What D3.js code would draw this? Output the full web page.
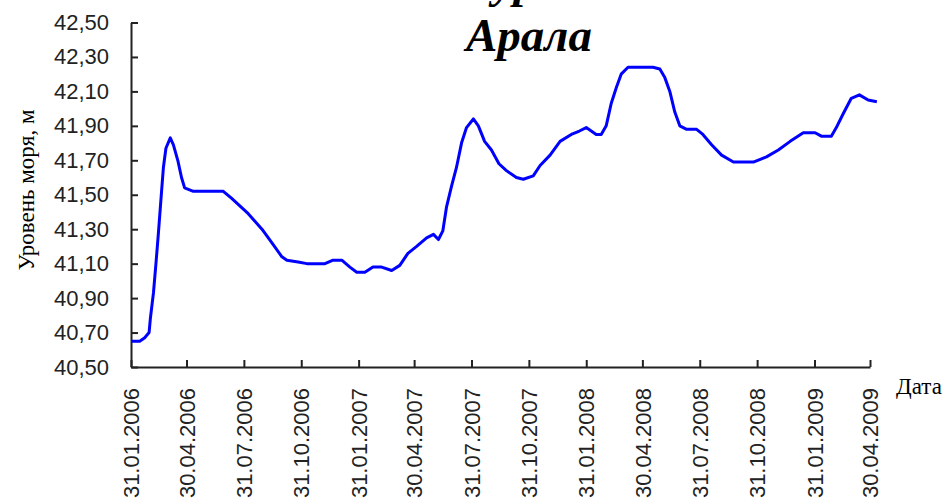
<!DOCTYPE html>
<html>
<head>
<meta charset="utf-8">
<script src="https://cdn.jsdelivr.net/npm/d3@7"></script>
<style>
  body { margin: 0; background: #fff; }
</style>
</head>
<body>
<div id="chart"></div>
<script>
var dates = [
  "31.01.2006", "14.02.2006", "22.02.2006", "01.03.2006", "03.03.2006", "08.03.2006",
  "12.03.2006", "16.03.2006", "21.03.2006", "24.03.2006", "28.03.2006", "04.04.2006",
  "09.04.2006", "16.04.2006", "22.04.2006", "27.04.2006", "11.05.2006", "22.06.2006",
  "28.06.2006", "11.07.2006", "07.08.2006", "29.08.2006", "14.09.2006", "30.09.2006",
  "08.10.2006", "26.10.2006", "09.11.2006", "08.12.2006", "21.12.2006", "04.01.2007",
  "17.01.2007", "28.01.2007", "10.02.2007", "23.02.2007", "09.03.2007", "25.03.2007",
  "07.04.2007", "20.04.2007", "04.05.2007", "20.05.2007", "31.05.2007", "08.06.2007",
  "15.06.2007", "21.06.2007", "29.06.2007", "07.07.2007", "15.07.2007", "23.07.2007",
  "03.08.2007", "11.08.2007", "21.08.2007", "01.09.2007", "13.09.2007", "25.09.2007",
  "11.10.2007", "22.10.2007", "07.11.2007", "18.11.2007", "04.12.2007", "20.12.2007",
  "07.01.2008", "20.01.2008", "31.01.2008", "08.02.2008", "16.02.2008", "24.02.2008",
  "03.03.2008", "11.03.2008", "19.03.2008", "27.03.2008", "07.04.2008", "17.05.2008",
  "28.05.2008", "05.06.2008", "13.06.2008", "21.06.2008", "29.06.2008", "10.07.2008",
  "26.07.2008", "05.08.2008", "19.08.2008", "04.09.2008", "23.09.2008", "25.10.2008",
  "15.11.2008", "04.12.2008", "23.12.2008", "13.01.2009", "01.02.2009", "11.02.2009",
  "27.02.2009", "07.03.2009", "18.03.2009", "31.03.2009", "13.04.2009", "27.04.2009",
  "11.05.2009"
];

var levels = [
  40.65, 40.65, 40.67, 40.70, 40.78, 40.93,
  41.10, 41.28, 41.52, 41.66, 41.77, 41.83,
  41.79, 41.70, 41.60, 41.54, 41.52, 41.52,
  41.52, 41.48, 41.39, 41.30, 41.22, 41.14,
  41.12, 41.11, 41.10, 41.10, 41.12, 41.12,
  41.08, 41.05, 41.05, 41.08, 41.08, 41.06,
  41.09, 41.16, 41.20, 41.25, 41.27, 41.24,
  41.29, 41.43, 41.55, 41.66, 41.80, 41.89,
  41.94, 41.90, 41.81, 41.76, 41.68, 41.64,
  41.60, 41.59, 41.61, 41.67, 41.73, 41.81,
  41.85, 41.87, 41.89, 41.87, 41.85, 41.85,
  41.90, 42.03, 42.12, 42.20, 42.24, 42.24,
  42.23, 42.18, 42.10, 41.98, 41.90, 41.88,
  41.88, 41.85, 41.79, 41.73, 41.69, 41.69,
  41.72, 41.76, 41.81, 41.86, 41.86, 41.84,
  41.84, 41.89, 41.97, 42.06, 42.08, 42.05,
  42.04
];

var tickDates = [
  "31.01.2006", "30.04.2006", "31.07.2006", "31.10.2006", "31.01.2007", "30.04.2007",
  "31.07.2007", "31.10.2007", "31.01.2008", "30.04.2008", "31.07.2008", "31.10.2008",
  "31.01.2009", "30.04.2009"
];

var yTicks = [40.5, 40.7, 40.9, 41.1, 41.3, 41.5, 41.7, 41.9, 42.1, 42.3, 42.5];

var titleLines = ["Колебания уровня Малого", "Арала"];
var yTitle = "Уровень моря, м";
var xTitle = "Дата";

var cWidth = 952, cHeight = 504;
var plot = {left: 131, right: 870, top: 22.5, bottom: 367};

var parseDate = d3.timeParse("%d.%m.%Y");
var formatDate = d3.timeFormat("%d.%m.%Y");

var data = dates.map(function(d, i) {
  return {date: parseDate(d), value: levels[i]};
});

var xScale = d3.scaleTime()
  .domain([parseDate(tickDates[0]), parseDate(tickDates[tickDates.length - 1])])
  .range([plot.left, plot.right]);

var yScale = d3.scaleLinear()
  .domain([40.5, 42.5])
  .range([plot.bottom, plot.top]);

var svgContainer = d3.select("#chart").append("svg")
  .attr("width", cWidth)
  .attr("height", cHeight);

// title, first line is cut off by the top edge like in the original
var title = svgContainer.append("text")
  .attr("x", 529)
  .attr("text-anchor", "middle")
  .style("font-family", "'Liberation Serif', 'Times New Roman', serif")
  .style("font-weight", "bold")
  .style("font-style", "italic")
  .style("font-size", "47px");

title.append("tspan").attr("x", 529).attr("y", -3).text(titleLines[0]);
title.append("tspan").attr("x", 529).attr("y", 51).text(titleLines[1]);

var xAxis = d3.axisBottom(xScale)
  .tickValues(tickDates.map(parseDate))
  .tickFormat(formatDate)
  .tickSizeInner(-7)
  .tickSizeOuter(0);

var yAxis = d3.axisLeft(yScale)
  .tickValues(yTicks)
  .tickFormat(function(d) { return d3.format(".2f")(d).replace(".", ","); })
  .tickSizeInner(-7)
  .tickSizeOuter(0);

var xAxisGroup = svgContainer.append("g")
  .attr("transform", "translate(0," + plot.bottom + ")")
  .call(xAxis);

var yAxisGroup = svgContainer.append("g")
  .attr("transform", "translate(" + plot.left + ",0)")
  .call(yAxis);

svgContainer.selectAll(".domain, .tick line")
  .attr("stroke", "#222")
  .attr("stroke-width", 2);

yAxisGroup.selectAll("text")
  .attr("x", -22)
  .style("font-family", "Arial, 'Liberation Sans', sans-serif")
  .style("font-size", "22px")
  .attr("fill", "#222");

xAxisGroup.selectAll("text")
  .attr("transform", "rotate(-90)")
  .attr("text-anchor", "end")
  .attr("x", -21)
  .attr("y", 0)
  .attr("dy", "0.35em")
  .style("font-family", "Arial, 'Liberation Sans', sans-serif")
  .style("font-size", "22px")
  .attr("fill", "#222");

svgContainer.append("text")
  .attr("transform", "translate(34,190) rotate(-90)")
  .attr("text-anchor", "middle")
  .style("font-family", "'Liberation Serif', 'Times New Roman', serif")
  .style("font-size", "23px")
  .text(yTitle);

svgContainer.append("text")
  .attr("x", 896)
  .attr("y", 394)
  .style("font-family", "'Liberation Serif', 'Times New Roman', serif")
  .style("font-size", "23px")
  .text(xTitle);

var line = d3.line()
  .x(function(d) { return xScale(d.date); })
  .y(function(d) { return yScale(d.value); });

svgContainer.append("path")
  .datum(data)
  .attr("d", line)
  .attr("fill", "none")
  .attr("stroke", "#0000ff")
  .attr("stroke-width", 3)
  .attr("stroke-linejoin", "round");
</script>
</body>
</html>
